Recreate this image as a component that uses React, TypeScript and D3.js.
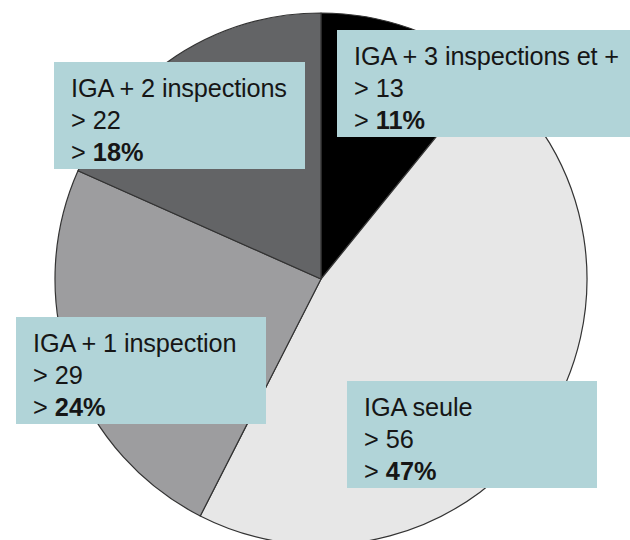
import { arc, pie, PieArcDatum } from "d3";

// slices clockwise from 12 o'clock
const categories = [
  "IGA + 3 inspections et +",
  "IGA seule",
  "IGA + 1 inspection",
  "IGA + 2 inspections",
];
const counts = [13, 56, 29, 22];

const sliceColors = ["#000000", "#e7e7e7", "#9d9d9f", "#636466"];

// label boxes (layout only): left, top, width
const labelBoxes = [
  { x: 337, y: 30, w: 293 },
  { x: 347, y: 381, w: 250 },
  { x: 16, y: 317, w: 250 },
  { x: 54, y: 62, w: 251 },
];

const W = 630;
const H = 540;
const cx = 321;
const cy = 279;
const radius = 266;

type Slice = { name: string; value: number };

export default function App() {
  const data: Slice[] = categories.map((name, i) => ({ name, value: counts[i] }));
  const total = counts.reduce((a, b) => a + b, 0);

  const arcs = pie<Slice>()
    .value((d) => d.value)
    .sort(null)
    .startAngle(0)
    .endAngle(2 * Math.PI)(data);

  const arcGen = arc<PieArcDatum<Slice>>().innerRadius(0).outerRadius(radius);

  const boxH = 107;
  const lineH = 32.2;
  const fontSize = 25.3;

  return (
    <svg
      width={W}
      height={H}
      viewBox={`0 0 ${W} ${H}`}
      style={{ position: "absolute", left: 0, top: 0, background: "#fff" }}
      fontFamily="'Liberation Sans', Arial, sans-serif"
    >
      <g transform={`translate(${cx},${cy})`}>
        {arcs.map((a, i) => (
          <path
            key={a.data.name}
            d={arcGen(a) ?? ""}
            fill={sliceColors[i]}
            stroke="#333"
            strokeWidth={1.2}
            strokeLinejoin="round"
          />
        ))}
      </g>

      {arcs.map((a, i) => {
        const b = labelBoxes[i];
        const pct = Math.round((a.data.value / total) * 100);
        const tx = b.x + 17;
        const ty = b.y + 35;
        return (
          <g key={`lbl-${a.data.name}`}>
            <rect x={b.x} y={b.y} width={b.w} height={boxH} fill="#b1d4d8" />
            <text x={tx} y={ty} fontSize={fontSize} fill="#161616" letterSpacing={-0.15}>
              {a.data.name}
            </text>
            <text x={tx} y={ty + lineH} fontSize={fontSize} fill="#161616">
              {`> ${a.data.value}`}
            </text>
            <text x={tx} y={ty + lineH * 2} fontSize={fontSize} fill="#161616">
              {"> "}
              <tspan fontWeight="bold">{`${pct}%`}</tspan>
            </text>
          </g>
        );
      })}
    </svg>
  );
}
